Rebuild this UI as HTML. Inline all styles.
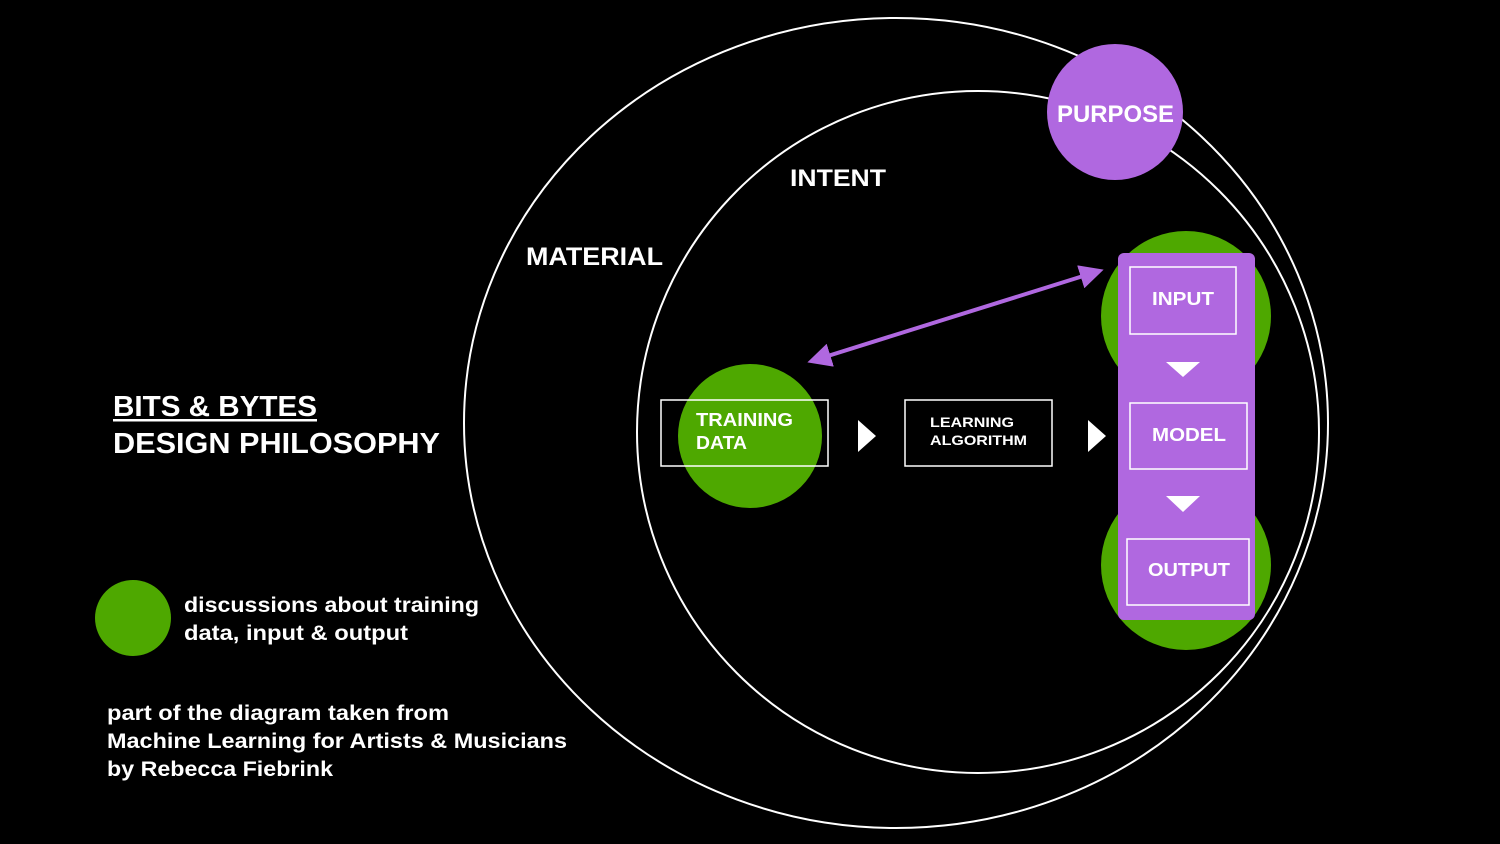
<!DOCTYPE html>
<html><head><meta charset="utf-8"><style>
html,body{margin:0;padding:0;background:#000;}
svg{display:block}
text{font-family:"Liberation Sans",sans-serif;font-weight:bold;fill:#fff}
</style></head><body>
<svg width="1500" height="844" viewBox="0 0 1500 844" xmlns="http://www.w3.org/2000/svg">
<defs>
<marker id="ah" markerWidth="6" markerHeight="6" refX="4" refY="3" orient="auto-start-reverse" markerUnits="strokeWidth">
<path d="M0,0 L6,3 L0,6 Z" fill="#b068e0"/>
</marker>
</defs>
<rect width="1500" height="844" fill="#000"/>
<ellipse cx="896" cy="423" rx="432" ry="405" fill="none" stroke="#fff" stroke-width="2"/>
<circle cx="978" cy="432" r="341" fill="none" stroke="#fff" stroke-width="2"/>
<circle cx="1115" cy="112" r="68" fill="#b068e0"/>
<text x="1057" y="122" font-size="24" textLength="117" lengthAdjust="spacingAndGlyphs">PURPOSE</text>
<text x="790" y="186" font-size="24" textLength="96" lengthAdjust="spacingAndGlyphs">INTENT</text>
<text x="526" y="265" font-size="25" textLength="137" lengthAdjust="spacingAndGlyphs">MATERIAL</text>

<circle cx="1186" cy="316" r="85" fill="#4ea800"/>
<circle cx="1186" cy="565" r="85" fill="#4ea800"/>
<rect x="1118" y="253" width="137" height="367" rx="6" fill="#b068e0"/>
<rect x="1130" y="267" width="106" height="67" fill="none" stroke="#fff" stroke-width="1.5"/>
<text x="1152" y="305" font-size="18" textLength="62" lengthAdjust="spacingAndGlyphs">INPUT</text>
<polygon points="1166,362 1200,362 1183,377" fill="#fff"/>
<rect x="1130" y="403" width="117" height="66" fill="none" stroke="#fff" stroke-width="1.5"/>
<text x="1152" y="441" font-size="18" textLength="74" lengthAdjust="spacingAndGlyphs">MODEL</text>
<polygon points="1166,496 1200,496 1183,512" fill="#fff"/>
<rect x="1127" y="539" width="122" height="66" fill="none" stroke="#fff" stroke-width="1.5"/>
<text x="1148" y="576" font-size="18" textLength="82" lengthAdjust="spacingAndGlyphs">OUTPUT</text>

<circle cx="750" cy="436" r="72" fill="#4ea800"/>
<rect x="661" y="400" width="167" height="66" fill="none" stroke="#fff" stroke-width="1.5"/>
<text x="696" y="426" font-size="18" textLength="97" lengthAdjust="spacingAndGlyphs">TRAINING</text>
<text x="696" y="449" font-size="18" textLength="51" lengthAdjust="spacingAndGlyphs">DATA</text>
<polygon points="858,420 876,436 858,452" fill="#fff"/>
<rect x="905" y="400" width="147" height="66" fill="none" stroke="#fff" stroke-width="1.5"/>
<text x="930" y="427" font-size="14" textLength="84" lengthAdjust="spacingAndGlyphs">LEARNING</text>
<text x="930" y="445" font-size="14" textLength="97" lengthAdjust="spacingAndGlyphs">ALGORITHM</text>
<polygon points="1088,420 1106,436 1088,452" fill="#fff"/>

<line x1="815" y1="360" x2="1096" y2="272" stroke="#b068e0" stroke-width="4" marker-start="url(#ah)" marker-end="url(#ah)"/>

<text x="113" y="416" font-size="29" textLength="204" lengthAdjust="spacingAndGlyphs">BITS &amp; BYTES</text>
<rect x="113" y="419" width="204" height="2.5" fill="#fff"/>
<text x="113" y="453" font-size="29" textLength="327" lengthAdjust="spacingAndGlyphs">DESIGN PHILOSOPHY</text>

<circle cx="133" cy="618" r="38" fill="#4ea800"/>
<text x="184" y="612" font-size="21" textLength="295" lengthAdjust="spacingAndGlyphs">discussions about training</text>
<text x="184" y="640" font-size="21" textLength="224" lengthAdjust="spacingAndGlyphs">data, input &amp; output</text>

<text x="107" y="720" font-size="21" textLength="342" lengthAdjust="spacingAndGlyphs">part of the diagram taken from</text>
<text x="107" y="748" font-size="21" textLength="460" lengthAdjust="spacingAndGlyphs">Machine Learning for Artists &amp; Musicians</text>
<text x="107" y="776" font-size="21" textLength="226" lengthAdjust="spacingAndGlyphs">by Rebecca Fiebrink</text>
</svg>
</body></html>
